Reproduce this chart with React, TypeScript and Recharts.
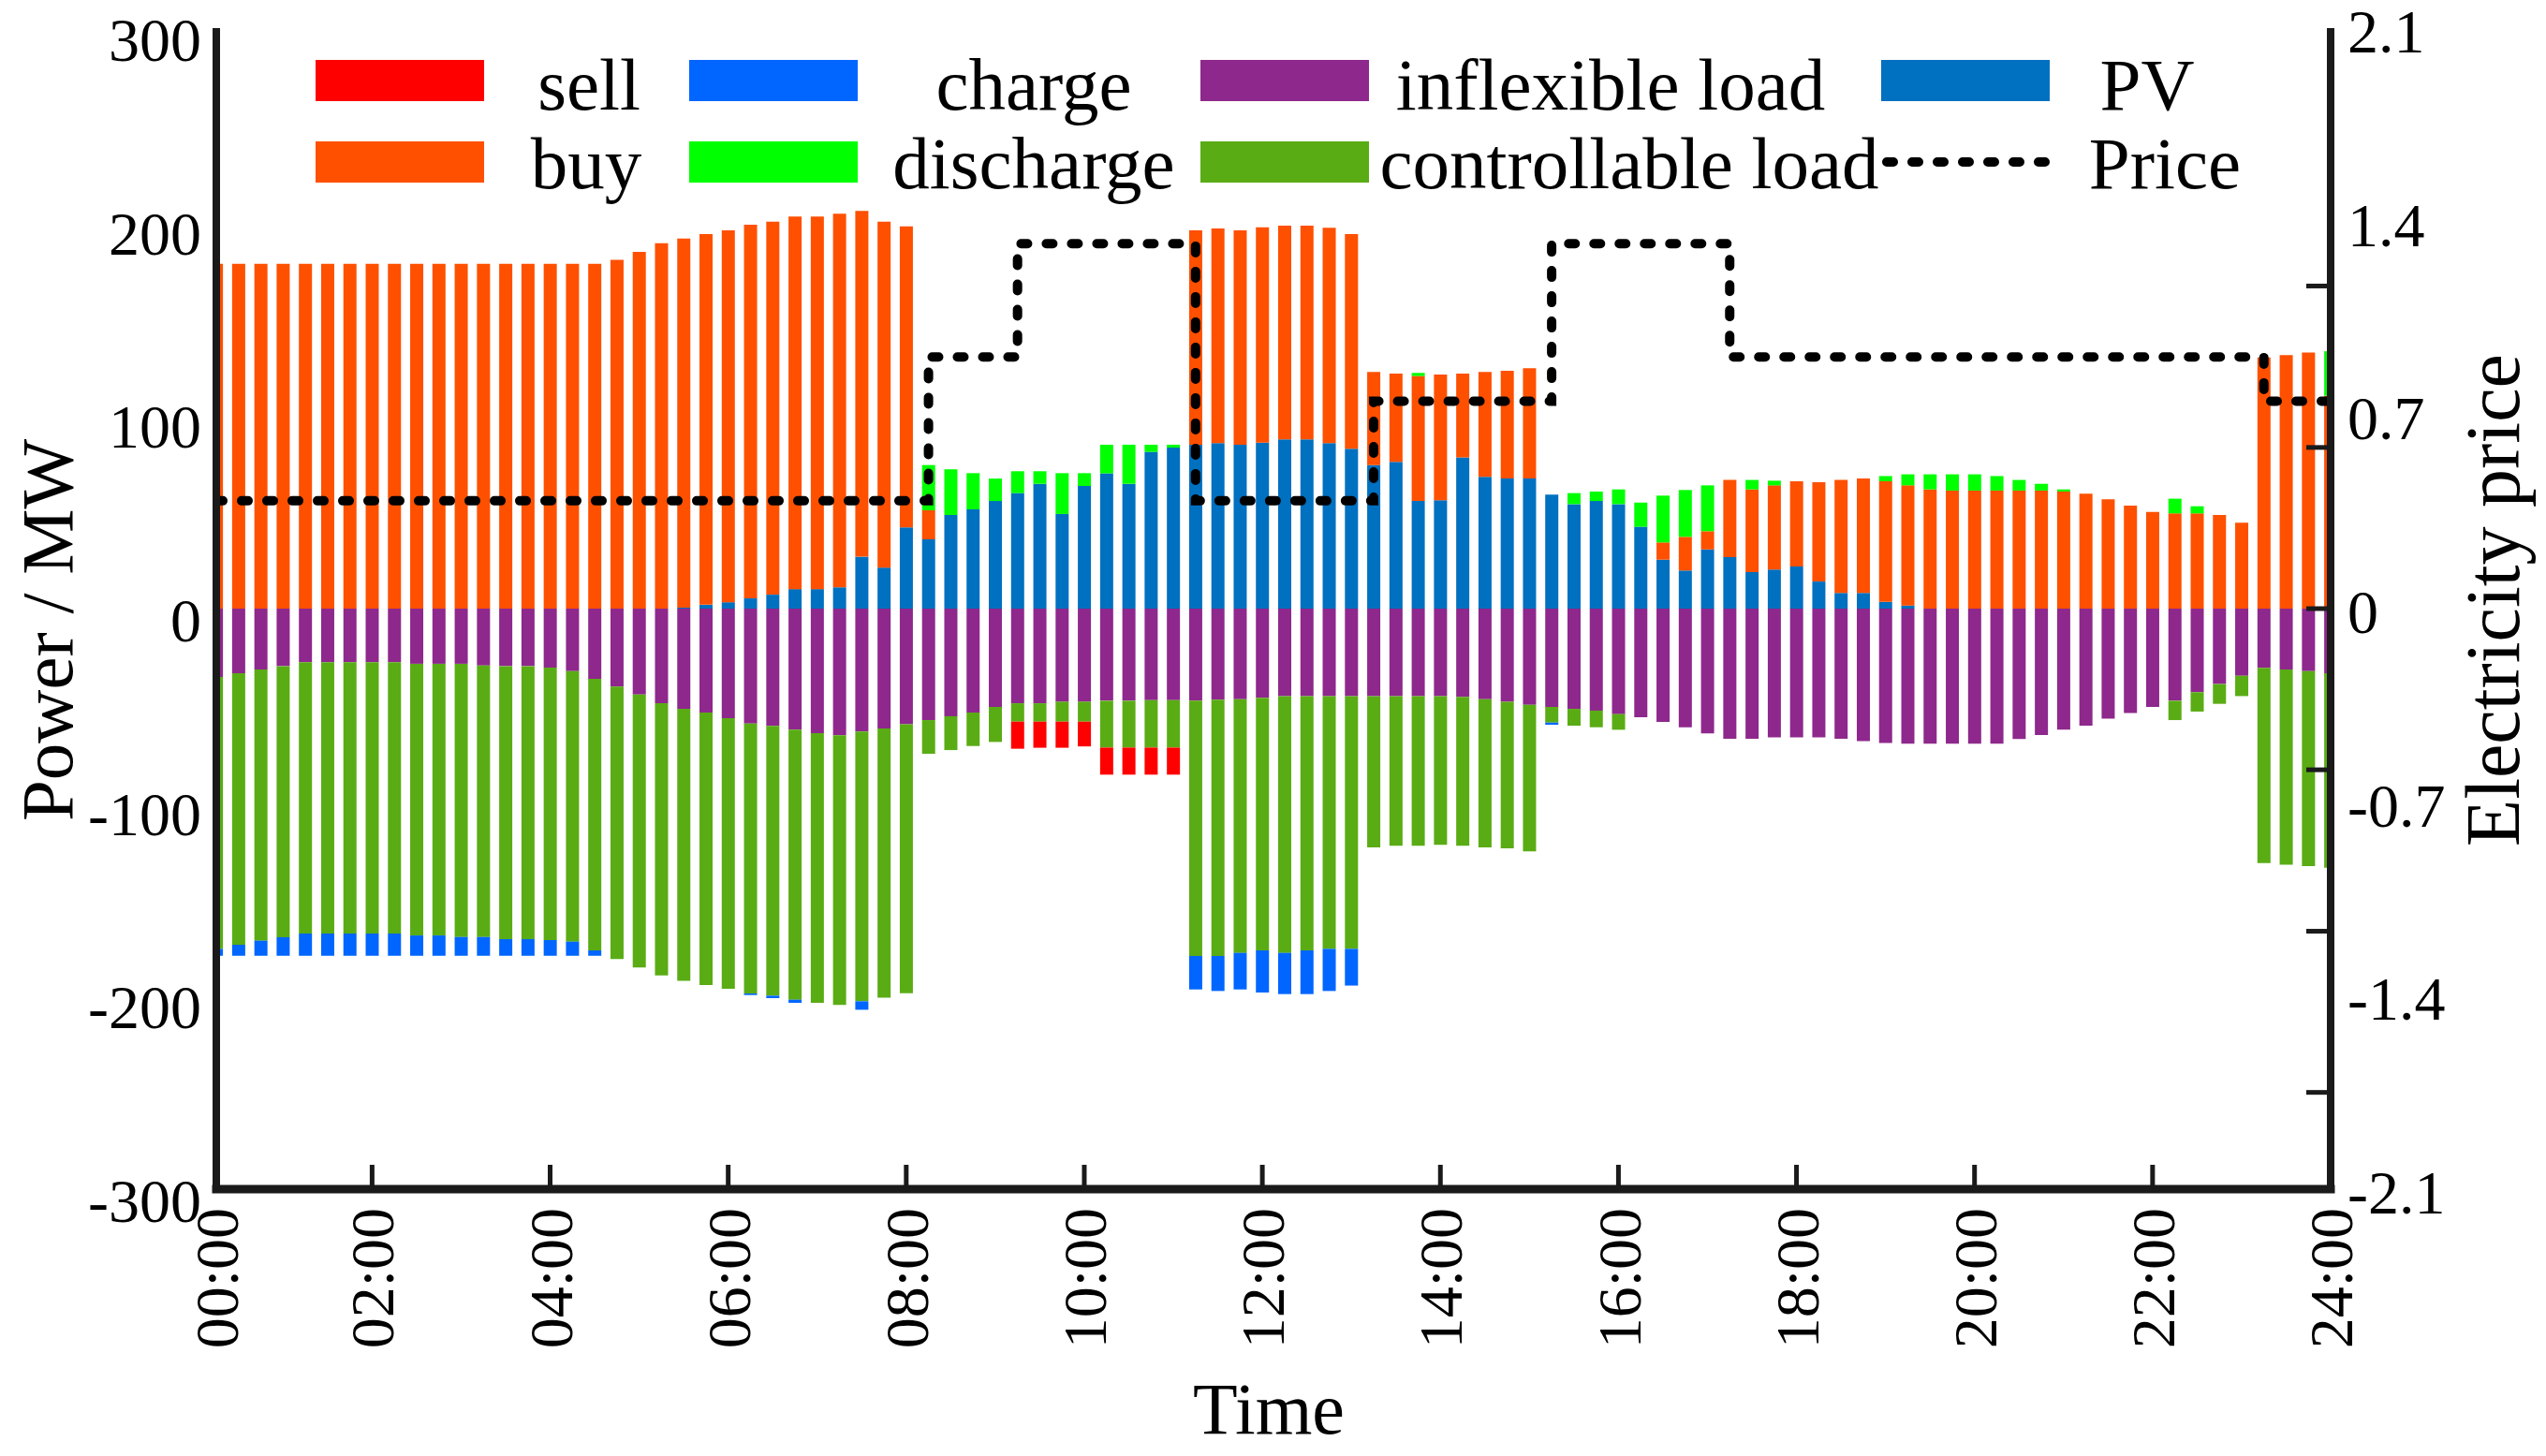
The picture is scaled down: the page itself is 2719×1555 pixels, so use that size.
import React from 'react';
import { ComposedChart, Bar, Line, XAxis, YAxis } from 'recharts';

const W = 2719;
const H = 1555;
const SERIF = '"Liberation Serif", "Times New Roman", "DejaVu Serif", serif';
const TICK_FS = 66;
const AXIS_COLOR = '#1a1a1a';

// plot frame (pixels)
const PLOT_LEFT = 231;
const PLOT_RIGHT = 2489;
const PLOT_TOP = 30;
const PLOT_BOTTOM = 1270;
const Y_W = 200;
const X_H = 200;

const COLORS = {
  sell: '#FF0000',
  buy: '#FF5000',
  charge: '#0066FF',
  discharge: '#00FF00',
  inflexible: '#8E288C',
  controllable: '#5AAC14',
  pv: '#0070C0',
  price: '#000000',
};

// ---------- axes ----------
const timeLabels = ['00:00', '02:00', '04:00', '06:00', '08:00', '10:00', '12:00', '14:00', '16:00', '18:00', '20:00', '22:00', '24:00'];
const timeTickIndex = [0, 7, 15, 23, 31, 39, 47, 55, 63, 71, 79, 87, 95];
const powerTicks = [-300, -200, -100, 0, 100, 200, 300];
const priceLabelTicks = [-2.1, -1.4, -0.7, 0, 0.7, 1.4, 2.1];
const priceMarkTicks = [-1.75, -1.167, -0.583, 0, 0.583, 1.167];

// ---------- series (96 x 15 min, MW) ----------
const pv = [
  0, 0, 0, 0, 0, 0, 0, 0,
  0, 0, 0, 0, 0, 0, 0, 0,
  0, 0, 0, 0, 0, 0.5, 2, 3.3,
  5.3, 7.2, 10.1, 10.1, 11, 26.8, 21.2, 42,
  35.8, 48.4, 51.3, 55.6, 59.7, 64.5, 48.9, 63.4,
  69.9, 64.5, 81, 83.2, 84.7, 85.5, 84.7, 85.8,
  87.4, 87.4, 85.5, 82.6, 74.2, 75.8, 55.6, 56,
  78.2, 68.1, 67.3, 67.3, 58.9, 54, 55.6, 54,
  42.3, 25.3, 19.7, 30.6, 26.6, 18.9, 20.2, 21.8,
  14, 8.1, 8.1, 3.5, 1.6, 0, 0, 0,
  0, 0, 0, 0, 0, 0, 0, 0,
  0, 0, 0, 0, 0, 0, 0, 0,
];

const buy = [
  178.2, 178.2, 178.2, 178.2, 178.2, 178.2, 178.2, 178.2,
  178.2, 178.2, 178.2, 178.2, 178.2, 178.2, 178.2, 178.2,
  178.2, 178.2, 180.2, 184.4, 188.8, 190.7, 191.5, 192.2,
  193.1, 192.7, 192.5, 192.5, 193.1, 178.7, 178.7, 155.6,
  15, 0, 0, 0, 0, 0, 0, 0,
  0, 0, 0, 0, 110.8, 111, 110.8, 111.3,
  110.5, 110.5, 111.3, 110.9, 48.1, 45.7, 64.6, 65,
  43.3, 54.2, 55.6, 56.9, 0, 0, 0, 0,
  0, 8.9, 17.4, 9.4, 39.9, 42.7, 43.5, 44,
  51.3, 58.4, 59.2, 62.3, 62.1, 61.6, 61, 61,
  61, 61, 61, 60.5, 59.4, 56.5, 53.2, 50,
  49.2, 49.2, 48.4, 44.4, 129.8, 131, 132.3, 110,
];

const discharge = [
  0, 0, 0, 0, 0, 0, 0, 0,
  0, 0, 0, 0, 0, 0, 0, 0,
  0, 0, 0, 0, 0, 0, 0, 0,
  0, 0, 0, 0, 0, 0, 0, 0,
  23.4, 23.6, 18.7, 11.6, 11.3, 6.5, 21.1, 6.6,
  14.8, 20.2, 3.7, 1.5, 0, 0, 0, 0,
  0, 0, 0, 0, 0, 0, 1.6, 0,
  0, 0, 0, 0, 0, 5.7, 4.9, 7.6,
  12.5, 24.2, 24.2, 23.7, 0, 4.9, 2.4, 0,
  0, 0, 0, 2.7, 5.7, 7.8, 8.4, 8.4,
  7.5, 5.5, 3.5, 1.1, 0, 0, 0, 0,
  7.6, 3.7, 0, 0, 0, 0, 0, 23,
];

const inflexible = [
  -35.3, -33.4, -31.5, -29.7, -27.7, -27.7, -27.7, -27.7,
  -27.7, -28.5, -28.5, -28.5, -29.4, -29.7, -29.7, -30.5,
  -32.3, -36.3, -40.3, -44.4, -48.9, -51.8, -53.7, -56.6,
  -59.4, -60.6, -62.6, -64.4, -65.5, -63.5, -61.9, -59.8,
  -57.6, -55.6, -53.7, -50.8, -48.9, -48.9, -48.1, -48.1,
  -47.6, -47.6, -47.3, -47.3, -47.6, -47.1, -46.8, -46.1,
  -45.3, -45.3, -45.3, -45.3, -45.3, -45.3, -45.3, -45.3,
  -45.6, -46.8, -48.1, -49.7, -50.8, -51.8, -52.7, -54.5,
  -56.1, -58.5, -61.3, -64.5, -67.3, -67.3, -66.5, -66.5,
  -66.5, -67.3, -68.5, -69.4, -69.8, -69.8, -69.8, -69.8,
  -69.8, -67.4, -65.3, -62.6, -60.5, -56.9, -54, -50.8,
  -47.6, -43.2, -39, -34.7, -30.6, -31.5, -32.3, -33.4,
];

const controllable = [
  -140.5, -140.3, -140.1, -140.1, -140.2, -140.2, -140.2, -140.2,
  -140.2, -140.4, -140.4, -141.2, -140.3, -141.1, -141.1, -140.8,
  -139.8, -140.3, -140.8, -141.1, -140.6, -140.5, -140.8, -139.9,
  -139.5, -139.4, -139.5, -139.3, -139.3, -139.4, -139.1, -138.9,
  -17.4, -17.5, -17.3, -18.1, -9.5, -9.5, -10.3, -10.3,
  -24.2, -24.2, -24.5, -24.5, -131.9, -132.4, -131.1, -130.5,
  -132.6, -131.3, -130.5, -130.5, -78.1, -77.3, -77.3, -76.8,
  -77, -76.6, -75.8, -75.8, -8.1, -8.7, -8.6, -8.1,
  0, 0, 0, 0, 0, 0, 0, 0,
  0, 0, 0, 0, 0, 0, 0, 0,
  0, 0, 0, 0, 0, 0, 0, 0,
  -10, -10, -10.2, -10.5, -100.9, -100.8, -100.8, -100.5,
];

const charge = [
  -3.6, -5.7, -7.8, -9.6, -11.5, -11.5, -11.5, -11.5,
  -11.5, -10.5, -10.5, -9.7, -9.7, -8.6, -8.6, -8.1,
  -7.3, -2.8, 0, 0, 0, 0, 0, 0,
  -0.8, -1.3, -1.6, 0, 0, -4.4, 0, 0,
  0, 0, 0, 0, 0, 0, 0, 0,
  0, 0, 0, 0, -17.3, -18.1, -18.9, -21.8,
  -21.3, -22.6, -21.8, -19, 0, 0, 0, 0,
  0, 0, 0, 0, -1.1, 0, 0, 0,
  0, 0, 0, 0, 0, 0, 0, 0,
  0, 0, 0, 0, 0, 0, 0, 0,
  0, 0, 0, 0, 0, 0, 0, 0,
  0, 0, 0, 0, 0, 0, 0, 0,
];

const sell = [
  0, 0, 0, 0, 0, 0, 0, 0,
  0, 0, 0, 0, 0, 0, 0, 0,
  0, 0, 0, 0, 0, 0, 0, 0,
  0, 0, 0, 0, 0, 0, 0, 0,
  0, 0, 0, 0, -14, -13.5, -13.5, -12.8,
  -14, -14, -14, -14, 0, 0, 0, 0,
  0, 0, 0, 0, 0, 0, 0, 0,
  0, 0, 0, 0, 0, 0, 0, 0,
  0, 0, 0, 0, 0, 0, 0, 0,
  0, 0, 0, 0, 0, 0, 0, 0,
  0, 0, 0, 0, 0, 0, 0, 0,
  0, 0, 0, 0, 0, 0, 0, 0,
];

const price = [
  0.39, 0.39, 0.39, 0.39, 0.39, 0.39, 0.39, 0.39,
  0.39, 0.39, 0.39, 0.39, 0.39, 0.39, 0.39, 0.39,
  0.39, 0.39, 0.39, 0.39, 0.39, 0.39, 0.39, 0.39,
  0.39, 0.39, 0.39, 0.39, 0.39, 0.39, 0.39, 0.39,
  0.91, 0.91, 0.91, 0.91, 1.32, 1.32, 1.32, 1.32,
  1.32, 1.32, 1.32, 1.32, 0.39, 0.39, 0.39, 0.39,
  0.39, 0.39, 0.39, 0.39, 0.75, 0.75, 0.75, 0.75,
  0.75, 0.75, 0.75, 0.75, 1.32, 1.32, 1.32, 1.32,
  1.32, 1.32, 1.32, 1.32, 0.91, 0.91, 0.91, 0.91,
  0.91, 0.91, 0.91, 0.91, 0.91, 0.91, 0.91, 0.91,
  0.91, 0.91, 0.91, 0.91, 0.91, 0.91, 0.91, 0.91,
  0.91, 0.91, 0.91, 0.91, 0.75, 0.75, 0.75, 0.75,
];

const data = pv.map((_, i) => ({
  slot: i,
  pv: pv[i],
  buy: buy[i],
  discharge: discharge[i],
  inflexible: inflexible[i],
  controllable: controllable[i],
  charge: charge[i],
  sell: sell[i],
  price: price[i],
}));

// ---------- legend layout ----------
const LEGEND_COL_X = [337, 736, 1282, 2009];
const LEGEND_ROW_Y = [64, 151];
const LEGEND_BASELINE = [117, 201];
const SWATCH_W = 180;
const SWATCH_H = 44;
const LEGEND_FS = 79;
const legendItems = [
  { label: 'sell', color: COLORS.sell, col: 0, row: 0, textX: 629, line: false },
  { label: 'buy', color: COLORS.buy, col: 0, row: 1, textX: 626, line: false },
  { label: 'charge', color: COLORS.charge, col: 1, row: 0, textX: 1104, line: false },
  { label: 'discharge', color: COLORS.discharge, col: 1, row: 1, textX: 1104, line: false },
  { label: 'inflexible load', color: COLORS.inflexible, col: 2, row: 0, textX: 1720, line: false },
  { label: 'controllable load', color: COLORS.controllable, col: 2, row: 1, textX: 1740, line: false },
  { label: 'PV', color: COLORS.pv, col: 3, row: 0, textX: 2293, line: false },
  { label: 'Price', color: COLORS.price, col: 3, row: 1, textX: 2312, line: true },
];

const X_TICK_MARGIN = 20;
const L_TICK_MARGIN = 16;
const R_TICK_MARGIN = 18;

const near = (arr: number[], v: number) => arr.some((t) => Math.abs(t - v) < 1e-6);

const XTick = (props: any) => {
  const { x, y, payload } = props;
  const k = timeTickIndex.indexOf(payload.value);
  const label = k >= 0 ? timeLabels[k] : '';
  const axisY = y - X_TICK_MARGIN;
  const inner = k > 0 && k < timeTickIndex.length - 1;
  return (
    <g>
      {inner && <line x1={x} x2={x} y1={axisY} y2={axisY - 26} stroke={AXIS_COLOR} strokeWidth={5} />}
      <text
        x={x}
        y={y}
        dy="0.35em"
        textAnchor="end"
        transform={`rotate(-90 ${x} ${y})`}
        fontFamily={SERIF}
        fontSize={TICK_FS}
        fill="#000"
      >
        {label}
      </text>
    </g>
  );
};

const LeftTick = (props: any) => {
  const { x, y, payload } = props;
  return (
    <text x={x} y={y + 12} dy="0.35em" textAnchor="end" fontFamily={SERIF} fontSize={TICK_FS} fill="#000">
      {String(payload.value)}
    </text>
  );
};

const RightTick = (props: any) => {
  const { x, y, payload } = props;
  const v = payload.value;
  const axisX = x - R_TICK_MARGIN;
  return (
    <g>
      {near(priceMarkTicks, v) && (
        <line x1={axisX - 26} x2={axisX} y1={y} y2={y} stroke={AXIS_COLOR} strokeWidth={5} />
      )}
      {near(priceLabelTicks, v) && (
        <text x={x} y={y + 3} dy="0.35em" textAnchor="start" fontFamily={SERIF} fontSize={TICK_FS} fill="#000">
          {String(v)}
        </text>
      )}
    </g>
  );
};

const rightAxisTicks = Array.from(new Set([...priceLabelTicks, ...priceMarkTicks])).sort((a, b) => a - b);

export default function App() {
  return (
    <div style={{ position: 'absolute', left: 0, top: 0, width: W, height: H, background: '#fff', overflow: 'hidden' }}>
      <ComposedChart
        width={W}
        height={H}
        data={data}
        stackOffset="sign"
        margin={{
          top: PLOT_TOP,
          left: PLOT_LEFT - Y_W,
          right: W - PLOT_RIGHT - Y_W,
          bottom: H - PLOT_BOTTOM - X_H,
        }}
      >
        <Bar yAxisId="left" dataKey="pv" stackId="s" fill={COLORS.pv} barSize={14} isAnimationActive={false} />
        <Bar yAxisId="left" dataKey="buy" stackId="s" fill={COLORS.buy} barSize={14} isAnimationActive={false} />
        <Bar yAxisId="left" dataKey="discharge" stackId="s" fill={COLORS.discharge} barSize={14} isAnimationActive={false} />
        <Bar yAxisId="left" dataKey="inflexible" stackId="s" fill={COLORS.inflexible} barSize={14} isAnimationActive={false} />
        <Bar yAxisId="left" dataKey="controllable" stackId="s" fill={COLORS.controllable} barSize={14} isAnimationActive={false} />
        <Bar yAxisId="left" dataKey="charge" stackId="s" fill={COLORS.charge} barSize={14} isAnimationActive={false} />
        <Bar yAxisId="left" dataKey="sell" stackId="s" fill={COLORS.sell} barSize={14} isAnimationActive={false} />
        <Line
          yAxisId="right"
          type="stepAfter"
          dataKey="price"
          stroke={COLORS.price}
          strokeWidth={10}
          strokeDasharray="7 20"
          strokeLinecap="round"
          dot={false}
          activeDot={false}
          isAnimationActive={false}
        />
        <XAxis
          dataKey="slot"
          type="number"
          domain={[0, 95]}
          ticks={timeTickIndex}
          interval={0}
          allowDataOverflow
          height={X_H}
          tickSize={0}
          tickLine={false}
          tickMargin={X_TICK_MARGIN}
          tick={XTick}
          axisLine={{ stroke: AXIS_COLOR, strokeWidth: 9, strokeLinecap: 'square' }}
        />
        <YAxis
          yAxisId="left"
          type="number"
          domain={[-300, 300]}
          ticks={powerTicks}
          interval={0}
          width={Y_W}
          tickSize={0}
          tickLine={false}
          tickMargin={L_TICK_MARGIN}
          tick={LeftTick}
          axisLine={{ stroke: AXIS_COLOR, strokeWidth: 8 }}
        />
        <YAxis
          yAxisId="right"
          orientation="right"
          type="number"
          domain={[-2.1, 2.1]}
          ticks={rightAxisTicks}
          interval={0}
          width={Y_W}
          tickSize={0}
          tickLine={false}
          tickMargin={R_TICK_MARGIN}
          tick={RightTick}
          axisLine={{ stroke: AXIS_COLOR, strokeWidth: 8 }}
        />
      </ComposedChart>
      <svg
        width={W}
        height={H}
        style={{ position: 'absolute', left: 0, top: 0, pointerEvents: 'none' }}
      >
        {legendItems.map((it) => {
          const sx = LEGEND_COL_X[it.col];
          const sy = LEGEND_ROW_Y[it.row];
          return (
            <g key={it.label}>
              {it.line ? (
                <line
                  x1={sx + 6}
                  x2={sx + SWATCH_W}
                  y1={sy + SWATCH_H / 2}
                  y2={sy + SWATCH_H / 2}
                  stroke={it.color}
                  strokeWidth={10}
                  strokeDasharray="7 20"
                  strokeLinecap="round"
                />
              ) : (
                <rect x={sx} y={sy} width={SWATCH_W} height={SWATCH_H} fill={it.color} />
              )}
              <text
                x={it.textX}
                y={LEGEND_BASELINE[it.row]}
                textAnchor="middle"
                fontFamily={SERIF}
                fontSize={LEGEND_FS}
                fill="#000"
              >
                {it.label}
              </text>
            </g>
          );
        })}
        <text
          x={77}
          y={673}
          transform="rotate(-90 77 673)"
          textAnchor="middle"
          fontFamily={SERIF}
          fontSize={79}
          fill="#000"
        >
          Power / MW
        </text>
        <text
          x={2690}
          y={641}
          transform="rotate(-90 2690 641)"
          textAnchor="middle"
          fontFamily={SERIF}
          fontSize={82}
          fill="#000"
        >
          Electricity price
        </text>
        <text x={1355} y={1531} textAnchor="middle" fontFamily={SERIF} fontSize={78} fill="#000">
          Time
        </text>
      </svg>
    </div>
  );
}
